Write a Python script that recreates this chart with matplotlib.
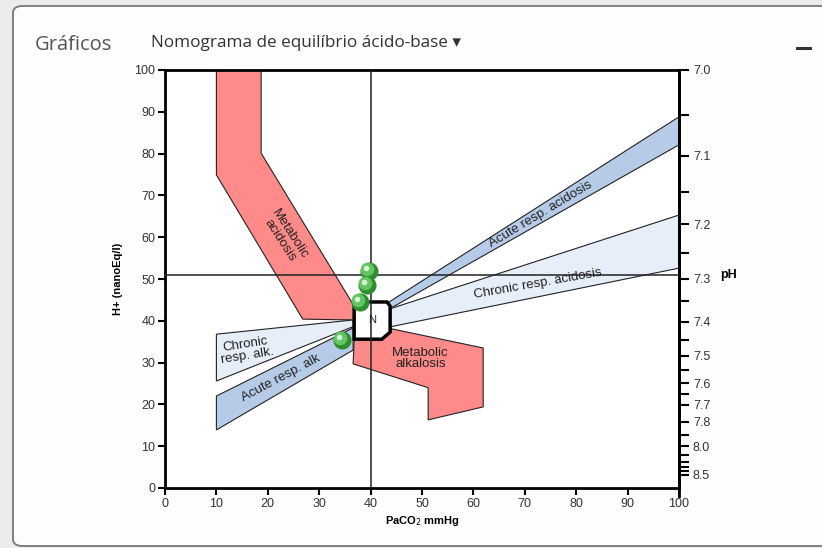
import numpy as np
import matplotlib
matplotlib.use("Agg")
import matplotlib.pyplot as plt
from matplotlib.patches import Polygon, FancyBboxPatch
from matplotlib.lines import Line2D
from matplotlib.transforms import offset_copy

plt.rcParams['font.family'] = ['Liberation Sans', 'DejaVu Sans']

# dados do nomograma (PaCO2 mmHg, H+ nanoEq/l)
met_acidosis = [(10, 100), (18.7, 100), (18.7, 80.1), (36.8, 43.5),
                (36.8, 40.2), (26.8, 40.4), (10, 74.9)]
met_alkalosis = [(36.8, 35.6), (42.2, 35.6), (43.6, 38.2), (61.9, 33.5),
                 (61.9, 19.4), (51.2, 16.3), (51.2, 24.0), (36.6, 29.7)]
acute_acidosis = [(43.6, 44.5), (100, 88.8), (100, 82.1), (43.6, 42.8)]
chronic_acidosis = [(43.6, 42.8), (100, 65.3), (100, 52.6), (43.6, 38.5)]
chronic_alk = [(10, 36.8), (36.6, 40.2), (36.6, 38.6), (10, 25.6)]
acute_alk = [(10, 22.0), (36.6, 38.3), (36.6, 33.0), (10, 13.9)]
normal_box = [(36.8, 44.5), (43.2, 44.5), (43.8, 43.5), (43.8, 37.3),
              (42.2, 35.6), (36.8, 35.6)]

# pontos do paciente
paco2_pts = [39.7, 39.3, 37.9, 34.4]
h_pts = [51.9, 48.6, 44.5, 35.4]
cross_x = 40
cross_y = 51

ph_labels = [7.0, 7.1, 7.2, 7.3, 7.4, 7.5, 7.6, 7.7, 7.8, 8.0, 8.5]
ph_minor = [7.05, 7.15, 7.25, 7.35, 7.45, 7.55, 7.65, 7.9, 8.1, 8.2, 8.3, 8.4]

red = '#ff8a8a'
blue = '#b6cbe8'
light_blue = '#e6eef9'

fig = plt.figure(figsize=(8.22, 5.48), dpi=100)
fig.patch.set_facecolor('#ececec')

# cartão
card = FancyBboxPatch((13 / 822, 2 / 548), 1.2, 540 / 548,
                      boxstyle="round,pad=0,rounding_size=0.012",
                      transform=fig.transFigure, facecolor='#fdfdfd',
                      edgecolor='#777777', linewidth=1.3, zorder=-10)
fig.patches.append(card)

fig.text(35 / 822, 1 - 45 / 548, 'Gráficos', fontsize=14.5, color='#555555',
         va='center', family=['Open Sans', 'DejaVu Sans'])
fig.text(151 / 822, 1 - 43 / 548, 'Nomograma de equilíbrio ácido-base ▾',
         fontsize=12.3, color='#333333', va='center',
         family=['Open Sans', 'DejaVu Sans'])
fig.lines.append(Line2D([797 / 822, 810 / 822], [1 - 48 / 548, 1 - 48 / 548],
                        transform=fig.transFigure, color='#333333', lw=2.2))

ax = fig.add_axes([165 / 822, 60 / 548, 514 / 822, 418 / 548])
ax.set_facecolor('white')
ax.set_xlim(0, 100)
ax.set_ylim(0, 100)

for verts, col in [(met_acidosis, red), (met_alkalosis, red),
                   (chronic_acidosis, light_blue), (acute_acidosis, blue),
                   (chronic_alk, light_blue), (acute_alk, blue)]:
    ax.add_patch(Polygon(verts, closed=True, facecolor=col,
                         edgecolor='#222222', lw=0.8, zorder=2))
ax.add_patch(Polygon(normal_box, closed=True, facecolor='white',
                     edgecolor='black', lw=2.5, zorder=3))

ax.axhline(cross_y, color='#222222', lw=1.1, zorder=4)
ax.axvline(cross_x, color='#222222', lw=1.1, zorder=4)

# pontos verdes com brilho
ax.scatter(paco2_pts, h_pts, s=170, color='#2f8f2f', zorder=5, lw=0)
tr1 = offset_copy(ax.transData, fig=fig, x=-1.2, y=1.2, units='points')
ax.scatter(paco2_pts, h_pts, s=95, color='#62c462', zorder=6, lw=0,
           transform=tr1)
tr2 = offset_copy(ax.transData, fig=fig, x=-2.3, y=2.3, units='points')
ax.scatter(paco2_pts, h_pts, s=16, color='#d6f5d6', zorder=7, lw=0,
           transform=tr2)

tk = dict(fontsize=9.5, color='#222222', ha='center', va='center', zorder=8)
ax.text(23.3, 60, 'Metabolic\nacidosis', rotation=-57, linespacing=0.9, **tk)
ax.text(73, 65.5, 'Acute resp. acidosis', rotation=31, **tk)
ax.text(72.5, 48.8, 'Chronic resp. acidosis', rotation=10, **tk)
ax.text(15.8, 33.0, 'Chronic\nresp. alk.', rotation=9, ha='center', va='center',
        fontsize=9.5, color='#222222', linespacing=0.9, zorder=8)
ax.text(22.5, 26.3, 'Acute resp. alk', rotation=28, **tk)
ax.text(49.7, 31, 'Metabolic\nalkalosis', linespacing=0.95, **tk)
ax.text(40.2, 40.2, 'N', fontsize=8, color='#222222', ha='center',
        va='center', zorder=8)

for s in ax.spines.values():
    s.set_linewidth(2)
ax.set_xticks(np.arange(0, 101, 10))
ax.set_yticks(np.arange(0, 101, 10))
ax.tick_params(direction='out', length=5, width=1.5, labelsize=9,
               labelcolor='#333333', pad=2)
ax.set_xlabel('PaCO$_2$ mmHg', fontsize=8, fontweight='bold', labelpad=3)
ax.set_ylabel('H+ (nanoEq/l)', fontsize=8, fontweight='bold', labelpad=8)

# escala de pH
ax2 = ax.twinx()
ax2.set_ylim(0, 100)
ax2.set_yticks([10 ** (9 - p) for p in ph_labels])
ax2.set_yticklabels(['%.1f' % p for p in ph_labels])
ax2.set_yticks([10 ** (9 - p) for p in ph_minor], minor=True)
ax2.tick_params(axis='y', which='major', direction='out', length=7, width=1.5,
                labelsize=9, labelcolor='#333333', pad=3)
ax2.tick_params(axis='y', which='minor', direction='out', length=7, width=1.5)
for side in ['top', 'bottom', 'left']:
    ax2.spines[side].set_visible(False)
ax2.spines['right'].set_linewidth(2)
ax2.spines['right'].set_bounds(-1.8, 100)
ax2.text(1.08, 51, 'pH', transform=ax2.get_yaxis_transform(),
         fontsize=9, fontweight='bold', va='center')

fig.savefig('out.png', dpi=100, facecolor=fig.get_facecolor())
